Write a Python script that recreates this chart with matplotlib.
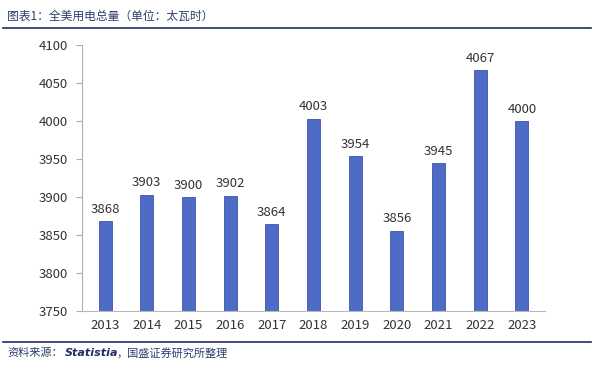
import matplotlib.pyplot as plt
import numpy as np

# 全美用电总量（太瓦时）
years = ['2013', '2014', '2015', '2016', '2017', '2018', '2019', '2020', '2021', '2022', '2023']
usage = [3868, 3903, 3900, 3902, 3864, 4003, 3954, 3856, 3945, 4067, 4000]

plt.rcParams['font.family'] = ['Noto Sans CJK SC', 'DejaVu Sans']

fig = plt.figure(figsize=(6, 3.78), dpi=100)
ax = fig.add_axes([0.137, 0.177, 0.771, 0.704])

x = np.arange(len(years))
bars = ax.bar(x, usage, width=0.31, color='#4E6BC6', edgecolor='#3a55a8', linewidth=0.6, zorder=2)
for xi, v in zip(x, usage):
    ax.text(xi, v + 7, str(v), ha='center', va='bottom', fontsize=9.5, color='#333333')

ax.set_ylim(3750, 4100)
ax.set_yticks(range(3750, 4101, 50))
ax.set_xlim(-0.55, len(years) - 0.45)
ax.set_xticks(x)
ax.set_xticklabels(years)
ax.tick_params(axis='y', length=4, color='#a8aec0', labelsize=9.5, labelcolor='#333333', pad=6)
ax.tick_params(axis='x', length=0, labelsize=9.5, labelcolor='#333333', pad=6)
for s in ['top', 'right']:
    ax.spines[s].set_visible(False)
ax.spines['left'].set_color('#a8aec0')
ax.spines['bottom'].set_color('#b8b8b8')

# header / footer
fig.text(0.012, 0.958, '图表1：全美用电总量（单位：太瓦时）', fontsize=8.5, style='italic',
         color='#2d3e6e', va='center', ha='left')
fig.add_artist(plt.Line2D([0.005, 0.985], [0.926, 0.926], color='#1f2f66', lw=1.2))
fig.add_artist(plt.Line2D([0.005, 0.985], [0.095, 0.095], color='#1f2f66', lw=1.2))
fig.text(0.012, 0.066, '资料来源：', fontsize=8, style='italic', color='#2d3e6e', va='center')
fig.text(0.108, 0.066, 'Statistia', fontsize=8, style='italic', weight='bold', color='#1f2f66',
         va='center', family='DejaVu Sans')
fig.text(0.195, 0.066, '，国盛证券研究所整理', fontsize=8, style='italic', color='#2d3e6e', va='center')

fig.savefig('out.png', dpi=100)
